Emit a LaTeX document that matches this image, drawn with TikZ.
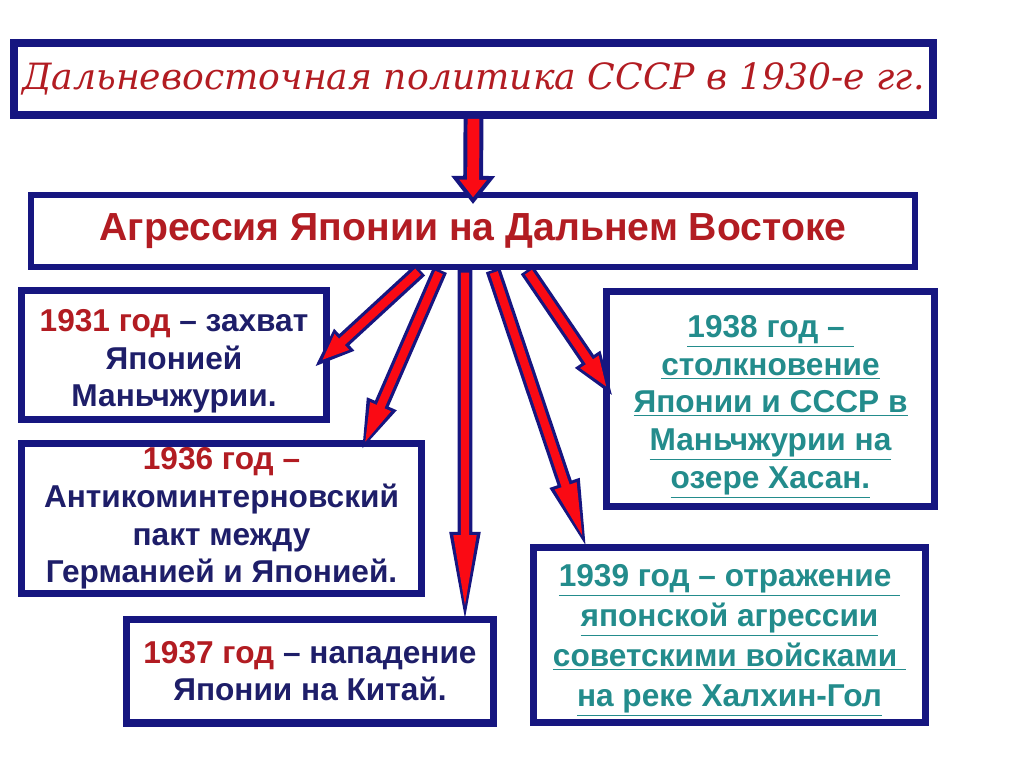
\documentclass[tikz,border=0pt]{standalone}
\usepackage{fontspec}
\setmainfont{Liberation Sans}
\newfontfamily\titlefont{DejaVu Serif Italic}
\usetikzlibrary{arrows.meta}
\definecolor{boxblue}{RGB}{22,22,128}
\definecolor{arrred}{RGB}{250,10,20}
\definecolor{yearred}{RGB}{178,28,34}
\definecolor{textblue}{RGB}{30,30,105}
\definecolor{hasantext}{RGB}{35,140,140}
\begin{document}
\begin{tikzpicture}[x=0.02cm,y=-0.02cm,
		box/.style={rectangle,draw=boxblue,line width=4pt,fill=white,inner sep=0pt,align=center,
			text=textblue,font=\bfseries\fontsize{18}{21.5}\selectfont},
		bigfat/.style={draw=boxblue,line width=11.3pt,-{Triangle[length=16pt,width=24pt]},
			postaction={draw=arrred,line width=6.8pt,-{Triangle[length=10pt,width=15pt]},shorten >=3.8pt,shorten <=0pt}},
		% outer head length, offset of the red tip, red head length, red head width
		fat/.style n args={4}{draw=boxblue,line width=8.5pt,-{Triangle[length=#1,width=15pt]},
			postaction={draw=arrred,line width=4.8pt,-{Triangle[length=#3,width=#4]},shorten >=#2,shorten <=1.5pt}}]
		\useasboundingbox (0,0) rectangle (1024,767);

		\node at (473.5, 79) [box,line width=4.5pt,minimum width=18.38cm,minimum height=1.44cm,text=yearred,
			font=\titlefont\fontsize{20.6}{24}\selectfont] (title) {Дальневосточная политика СССР в 1930-е гг.};
		\node at (473, 231) [box,line width=3.4pt,minimum width=17.68cm,minimum height=1.44cm,text=yearred,
			font=\bfseries\fontsize{22.3}{26}\selectfont] (aggr) {Агрессия Японии на Дальнем Востоке};

		\node at (174, 355)   [box,minimum width=6.1cm,minimum height=2.58cm] (y1931)
			{\rule{0pt}{19.7pt}{\color{yearred}1931 год} – захват\\Японией\\Маньчжурии.};
		\node at (221.5, 518.5) [box,minimum width=8cm,minimum height=3cm] (y1936)
			{{\color{yearred}1936 год –}\\Антикоминтерновский\\пакт между\\Германией и Японией.};
		\node at (310, 671)   [box,minimum width=7.34cm,minimum height=2.08cm] (y1937)
			{{\color{yearred}1937 год} – нападение\\Японии на Китай.};
		\node at (770.5, 398.75) [box,minimum width=6.56cm,minimum height=4.31cm,text=hasantext] (y1938)
			{\rule{0pt}{21.9pt}\underline{1938 год –\ }\\\underline{столкновение}\\\underline{Японии и СССР в}\\\underline{Маньчжурии на}\\\underline{озере Хасан.}};
		\node at (729.5, 635) [box,minimum width=7.86cm,minimum height=3.5cm,text=hasantext,
			font=\bfseries\fontsize{18}{22.7}\selectfont] (y1939)
			{\rule{0pt}{18.5pt}\underline{1939 год – отражение\ }\\\underline{японской агрессии}\\\underline{советскими войсками\ }\\\underline{на реке Халхин-Гол}};

		\draw[bigfat] (title.south) -- ([yshift=-0.24cm]aggr.north);
		\draw[fat={23.8pt}{6.15pt}{15.8pt}{11pt}] ([xshift=-1.06cm]aggr.south) -- ([xshift=-0.33cm,yshift=-0.26cm]y1931.east);
		\draw[fat={34pt}{8.6pt}{23.6pt}{11.4pt}]  ([xshift=-0.66cm]aggr.south) -- ([xshift=2.73cm,yshift=-0.37cm]y1936.north);
		\draw[fat={59.5pt}{14.8pt}{42.9pt}{11.8pt}] ([xshift=-0.16cm]aggr.south) -- ([xshift=3.1cm,yshift=-0.42cm]y1937.north);
		\draw[fat={45.4pt}{11.4pt}{32.2pt}{11.6pt}] ([xshift=0.4cm]aggr.south)   -- ([xshift=-2.79cm,yshift=-0.29cm]y1939.north);
		\draw[fat={27.2pt}{7pt}{18.4pt}{11.1pt}]  ([xshift=1.08cm]aggr.south)  -- ([xshift=0.23cm]y1938.west);
	\end{tikzpicture}
\end{document}
